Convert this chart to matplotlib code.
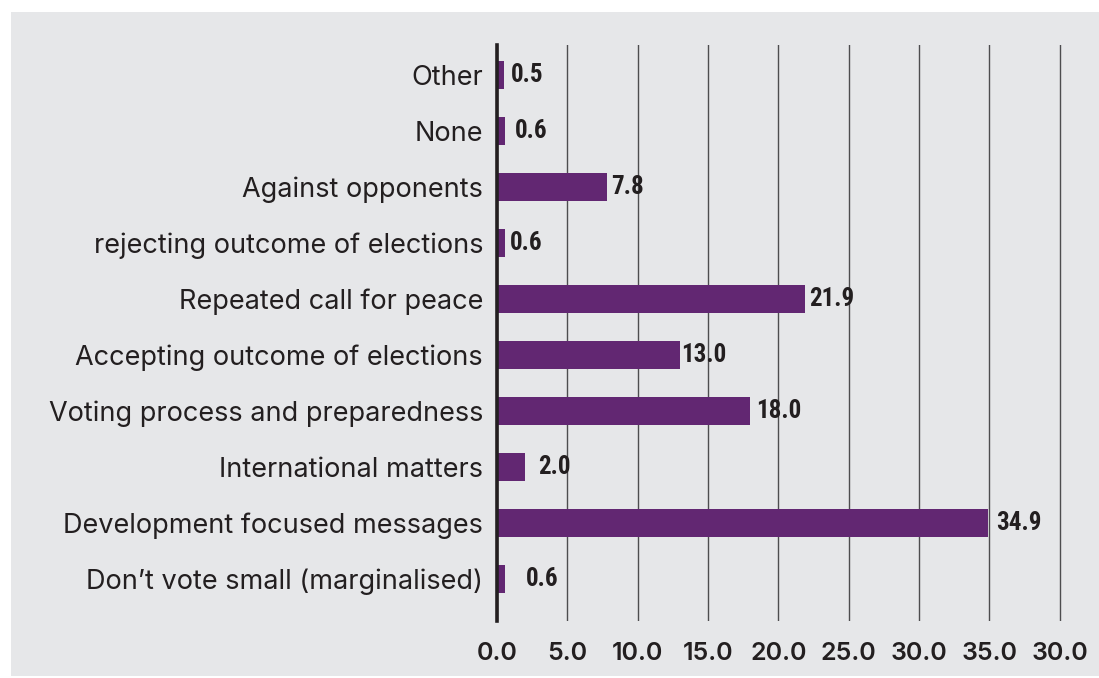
import matplotlib
matplotlib.use("Agg")
import matplotlib.pyplot as plt
from matplotlib.patches import Rectangle

categories = [
    "Don\u2019t vote small (marginalised)",
    "Development focused messages",
    "International matters",
    "Voting process and preparedness",
    "Accepting outcome of elections",
    "Repeated call for peace",
    "rejecting outcome of elections",
    "Against opponents",
    "None",
    "Other",
]
values = [0.6, 34.9, 2.0, 18.0, 13.0, 21.9, 0.6, 7.8, 0.6, 0.5]
xticks = [0, 5, 10, 15, 20, 25, 30, 35, 40]
xtick_labels = ["0.0", "5.0", "10.0", "15.0", "20.0", "25.0", "30.0", "35.0", "30.0"]
# gap between bar end and its number, in points
label_gap = [15, 6, 9, 4, 1, 3, 3, 3, 7, 5]

bg = "#e6e7e9"
purple = "#622772"
ink = "#231f20"

fig = plt.figure(figsize=(10.99, 6.78), dpi=100)
fig.patch.set_facecolor("white")
fig.patches.append(Rectangle((11 / 1099, 2 / 678), 1 - 11 / 1099, 664 / 678,
                             transform=fig.transFigure, facecolor=bg,
                             edgecolor="none", zorder=-1))

ax = fig.add_axes([497 / 1099, 57 / 678, 567 / 1099, 576 / 678])
ax.set_facecolor("none")

y = list(range(len(categories)))
ax.barh(y, values, height=0.49, color=purple, zorder=3)

narrow = ["Roboto Condensed", "Liberation Sans Narrow", "Open Sans Condensed", "Roboto"]
for yi, v, g in zip(y, values, label_gap):
    ax.annotate(f"{v:.1f}", (v, yi), xytext=(g, 0), textcoords="offset points",
                va="center", ha="left", fontsize=18, fontweight="bold",
                family=narrow, color=ink, zorder=4)

ax.set_xlim(0, 40.3)
ax.set_ylim(-0.75, 9.536)
ax.set_yticks(y)
ax.set_yticklabels(categories, fontsize=19.5, family=["Inter", "DejaVu Sans"],
                   color=ink)
ax.set_xticks(xticks)
ax.set_xticklabels(xtick_labels, fontsize=18, family=["Inter", "DejaVu Sans"],
                   fontweight="semibold", color=ink)
ax.tick_params(axis="y", length=0, pad=10)
ax.tick_params(axis="x", length=0, pad=15)

ax.grid(axis="x", color="#4d4d4f", linewidth=1.0, zorder=1)
for s in ["top", "right", "bottom"]:
    ax.spines[s].set_visible(False)
ax.spines["left"].set_color(ink)
ax.spines["left"].set_linewidth(2.6)
ax.spines["left"].set_zorder(5)

fig.savefig("out.png", dpi=100, facecolor=fig.get_facecolor())
